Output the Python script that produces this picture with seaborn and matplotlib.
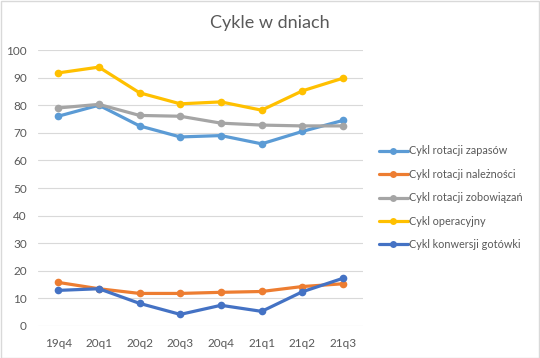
import numpy as np
import pandas as pd
import matplotlib
matplotlib.use("Agg")
import matplotlib.pyplot as plt
import seaborn as sns

quarters = ["19q4", "20q1", "20q2", "20q3", "20q4", "21q1", "21q2", "21q3"]
zapasy = [76.0, 80.0, 72.5, 68.5, 69.0, 66.0, 70.5, 74.5]
naleznosci = [15.8, 13.5, 11.8, 11.8, 12.2, 12.5, 14.3, 15.3]
zobowiazania = [79.0, 80.3, 76.3, 76.0, 73.5, 72.8, 72.5, 72.5]
operacyjny = [91.7, 93.8, 84.5, 80.5, 81.2, 78.2, 85.2, 89.8]
konwersja = [12.9, 13.5, 8.2, 4.2, 7.5, 5.3, 12.4, 17.3]

series = {
    "Cykl rotacji zapasów": zapasy,
    "Cykl rotacji należności": naleznosci,
    "Cykl rotacji zobowiązań": zobowiazania,
    "Cykl operacyjny": operacyjny,
    "Cykl konwersji gotówki": konwersja,
}
colors = ["#5B9BD5", "#ED7D31", "#A5A5A5", "#FFC000", "#4472C4"]

rows = []
for name, vals in series.items():
    for i, v in enumerate(vals):
        rows.append({"x": i, "q": quarters[i], "seria": name, "val": v})
df = pd.DataFrame(rows)

sns.set_style("white")
plt.rcParams["font.family"] = ["Lato", "DejaVu Sans"]

fig = plt.figure(figsize=(5.4, 3.58), dpi=100)
ax = fig.add_axes([0.070, 0.0894, 0.603, 0.7709])

sns.lineplot(data=df, x="x", y="val", hue="seria", palette=colors,
             marker="o", markersize=5.5, markeredgewidth=0, linewidth=2.3,
             ax=ax, legend=False)

ax.set_xlim(-0.5, 7.5)
ax.set_ylim(0, 100)
ax.set_yticks(np.arange(0, 101, 10))
ax.set_xticks(range(len(quarters)))
ax.set_xticklabels(quarters)
ax.set_xlabel("")
ax.set_ylabel("")
ax.tick_params(axis="both", length=0, labelsize=8.5, colors="#595959")
ax.tick_params(axis="x", pad=9)
ax.tick_params(axis="y", pad=8)
ax.grid(axis="y", color="#D9D9D9", linewidth=0.8)
ax.set_axisbelow(True)
for s in ax.spines.values():
    s.set_visible(False)

fig.text(0.5, 0.935, "Cykle w dniach", ha="center", va="center",
         fontsize=13, color="#595959")

handles = [plt.Line2D([], [], color=c, marker="o", markersize=5,
                      markeredgewidth=0, linewidth=2.3) for c in colors]
fig.legend(handles, list(series.keys()), loc="upper left",
           bbox_to_anchor=(0.695, 0.603), frameon=False, fontsize=7.8,
           handlelength=2.7, handletextpad=0.15, labelspacing=1.15,
           labelcolor="#595959", borderaxespad=0, borderpad=0.3)

fig.patches.append(plt.Rectangle((0.001, 0.001), 0.997, 0.997,
                                 transform=fig.transFigure, fill=False,
                                 edgecolor="#D9D9D9", linewidth=1))

fig.savefig("out.png", dpi=100)
